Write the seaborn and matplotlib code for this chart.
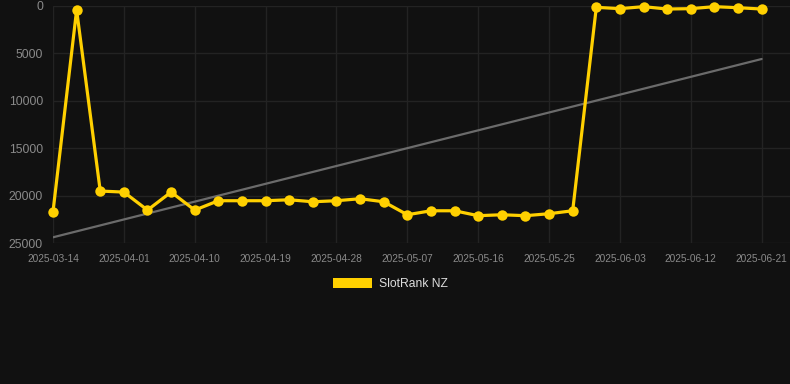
import numpy as np
import pandas as pd
import matplotlib
matplotlib.use("Agg")
import matplotlib.pyplot as plt
from matplotlib.patches import Patch
import seaborn as sns

# rank values (one point per sample)
rank = [21700, 420, 19520, 19630, 21530, 19630, 21530, 20540, 20540, 20540,
        20440, 20650, 20540, 20330, 20650, 22020, 21600, 21600, 22120, 22020,
        22120, 21910, 21600, 140, 280, 70, 320, 280, 70, 180, 320]

# dates shown on the x axis, every third sample
tick_dates = ["2025-03-14", "2025-04-01", "2025-04-10", "2025-04-19", "2025-04-28",
              "2025-05-07", "2025-05-16", "2025-05-25", "2025-06-03", "2025-06-12",
              "2025-06-21"]

y_ticks = [0, 5000, 10000, 15000, 20000, 25000]

df = pd.DataFrame({"idx": np.arange(len(rank)), "rank": rank})

bg = "#111111"
gold = "#FFD000"
grid_c = "#232323"

sns.set_theme(style="dark")
plt.rcParams["font.family"] = ["Liberation Sans", "DejaVu Sans"]

fig = plt.figure(figsize=(7.9, 3.84), dpi=100, facecolor=bg)
ax = fig.add_axes([53 / 790, 1 - 243 / 384, 1 - 53 / 790, (243 - 6) / 384])
ax.set_facecolor(bg)

# trend line
sns.regplot(data=df, x="idx", y="rank", scatter=False, ci=None, ax=ax,
            line_kws={"color": "#6b6b6b", "lw": 1.6, "zorder": 2})

sns.lineplot(data=df, x="idx", y="rank", ax=ax, color=gold, lw=2.3,
             marker="o", markersize=7.5, markeredgewidth=0, zorder=3,
             clip_on=False)

ax.set_xlim(0, 31.2)
ax.set_ylim(25000, 0)
ax.set_xticks(np.arange(0, len(rank), 3))
ax.set_xticklabels(tick_dates)
ax.set_yticks(y_ticks)
ax.set_yticklabels([str(v) for v in y_ticks])
ax.set_xlabel("")
ax.set_ylabel("")

ax.grid(True, color=grid_c, lw=1)
for s in ax.spines.values():
    s.set_visible(False)

ax.tick_params(axis="x", colors=grid_c, length=5, width=1, pad=3,
               labelcolor="#8a8a8a", labelsize=7.3)
ax.tick_params(axis="y", colors=grid_c, length=6, width=1, pad=1.2,
               labelcolor="#8a8a8a", labelsize=8.7)

fig.legend(handles=[Patch(facecolor=gold, edgecolor="none", label="SlotRank NZ")],
           loc="center", bbox_to_anchor=(390 / 790, 1 - 284 / 384),
           frameon=False, handlelength=3.3, handleheight=0.9, handletextpad=0.5,
           fontsize=8.7, labelcolor="#dddddd")

fig.savefig("out.png", dpi=100, facecolor=bg)
